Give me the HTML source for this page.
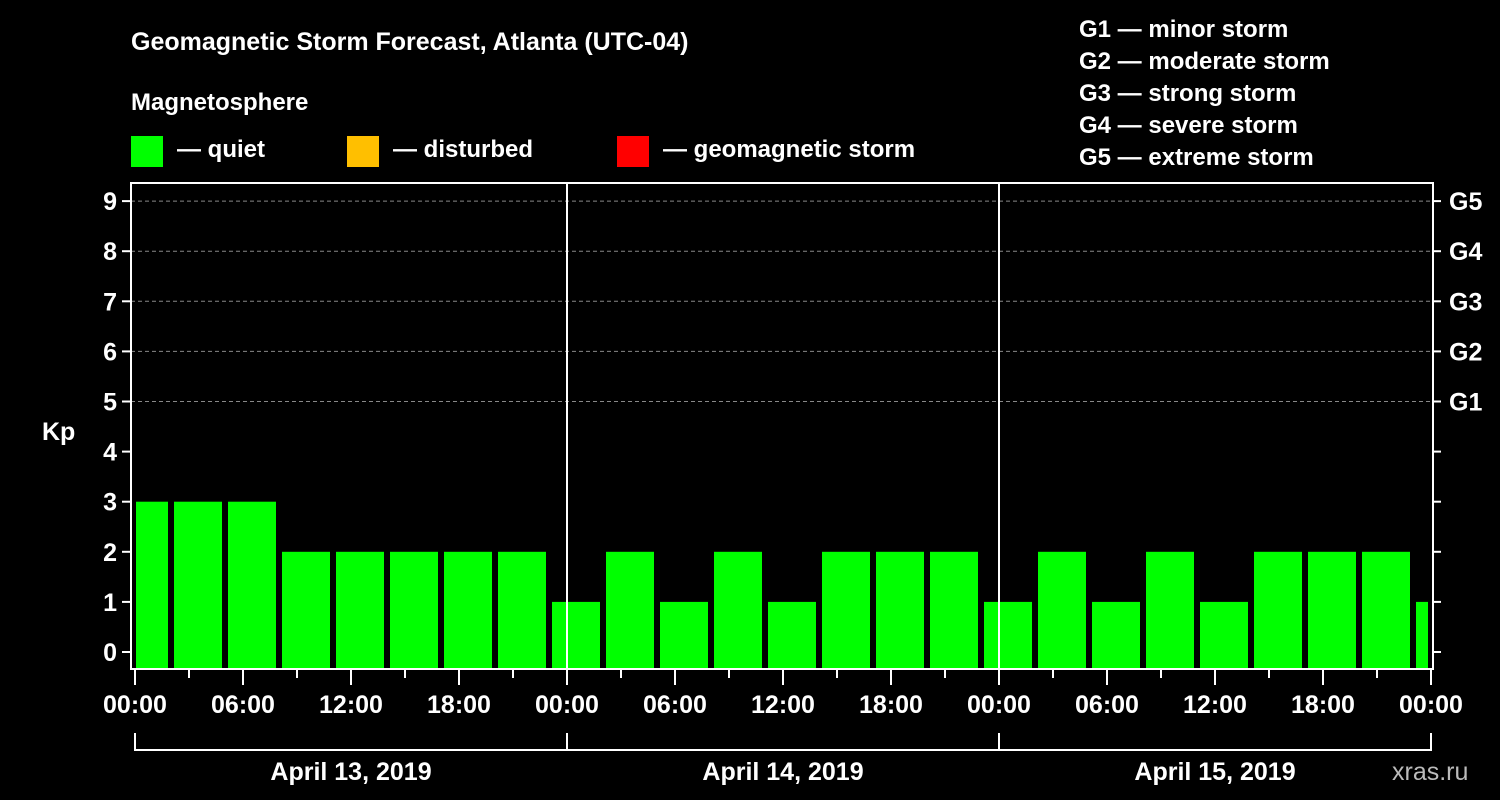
<!DOCTYPE html>
<html><head><meta charset="utf-8"><style>
body{margin:0;background:#000;width:1500px;height:800px;overflow:hidden}
svg{display:block;font-family:"Liberation Sans",Arial,sans-serif;font-weight:bold}
</style></head><body>
<svg id="c" width="1500" height="800">
<text x="131" y="50" fill="#fff" font-size="25">Geomagnetic Storm Forecast, Atlanta (UTC-04)</text>
<text x="131" y="110" fill="#fff" font-size="24">Magnetosphere</text>
<g><rect x="131" y="136" width="32" height="31" fill="#00ff00"/><text x="177" y="157" fill="#fff" font-size="24">— quiet</text></g>
<g><rect x="347" y="136" width="32" height="31" fill="#ffbf00"/><text x="393" y="157" fill="#fff" font-size="24">— disturbed</text></g>
<g><rect x="617" y="136" width="32" height="31" fill="#ff0000"/><text x="663" y="157" fill="#fff" font-size="24">— geomagnetic storm</text></g>
<g fill="#fff" font-size="24">
<text x="1079" y="37">G1 — minor storm</text>
<text x="1079" y="69">G2 — moderate storm</text>
<text x="1079" y="101">G3 — strong storm</text>
<text x="1079" y="133">G4 — severe storm</text>
<text x="1079" y="165">G5 — extreme storm</text>
</g>
<text x="42" y="440" fill="#fff" font-size="25">Kp</text>
<text x="1392" y="780" fill="#bbb" font-size="25" font-weight="normal">xras.ru</text>
<g id="plot"></g>
</svg>
<script>
const kpValues=[3,3,3,2,2,2,2,2,1,2,1,2,1,2,2,2,1,2,1,2,1,2,2,2,1];
const dayLabels=["April 13, 2019","April 14, 2019","April 15, 2019"];
const hourLabels=["00:00","06:00","12:00","18:00"];
const gLabels=["G1","G2","G3","G4","G5"];
const NS="http://www.w3.org/2000/svg";
const L=131,R=1433,T=183,B=669,X0=135,PXH=18;
const x=h=>X0+h*PXH;
const y=v=>652-v*50.1;
const g=document.getElementById('plot');
function mk(t,a){const e=document.createElementNS(NS,t);for(const k in a)e.setAttribute(k,a[k]);g.appendChild(e);return e;}
// grid
for(let v=5;v<=9;v++){const e=mk('line',{x1:L,x2:R,y1:y(v),y2:y(v),stroke:'#888','stroke-dasharray':'4,3','stroke-width':1});

}
// bars
kpValues.forEach((v,i)=>{const h0=-1+3*i,h1=h0+3;
let x1=x(h0)+3,x2=x(h1)-3;x1=Math.max(x1,L+5);x2=Math.min(x2,R-5);
const r=mk('rect',{x:x1,y:y(v),width:x2-x1,height:B-1-y(v),fill:v>=5?'#ff0000':(v>=4?'#ffbf00':'#00ff00')});

});
// day separators
for(let d=1;d<3;d++){const e=mk('line',{x1:x(24*d),x2:x(24*d),y1:T,y2:B,stroke:'#fff','stroke-width':2});

}
// frame
const f=mk('rect',{x:L,y:T,width:R-L,height:B-T,fill:'none',stroke:'#fff','stroke-width':2});


// y ticks
for(let v=0;v<=9;v++){mk('line',{x1:L-9,x2:L,y1:y(v),y2:y(v),stroke:'#fff','stroke-width':2});
mk('line',{x1:R,x2:R+8,y1:y(v),y2:y(v),stroke:'#fff','stroke-width':2});
const t=mk('text',{x:L-14,y:y(v)+9,fill:'#fff','font-size':25,'text-anchor':'end'});t.textContent=v;

}
gLabels.forEach((s,i)=>{const t=mk('text',{x:1449,y:y(5+i)+9,fill:'#fff','font-size':25});t.textContent=s;

});
// x ticks
for(let h=0;h<=72;h+=3){const maj=h%6==0;mk('line',{x1:x(h),x2:x(h),y1:B,y2:B+(maj?16:9),stroke:'#fff','stroke-width':2});
if(maj){const t=mk('text',{x:x(h),y:713,fill:'#fff','font-size':25,'text-anchor':'middle'});t.textContent=h==72?"00:00":hourLabels[(h%24)/6];

}}
// day brackets
dayLabels.forEach((s,d)=>{const a=x(24*d),b=x(24*(d+1));
mk('path',{d:`M${a} 733V750H${b}V733`,fill:'none',stroke:'#fff','stroke-width':2});
const t=mk('text',{x:(a+b)/2,y:780,fill:'#fff','font-size':25,'text-anchor':'middle'});t.textContent=s;

});
</script>
</body></html>
